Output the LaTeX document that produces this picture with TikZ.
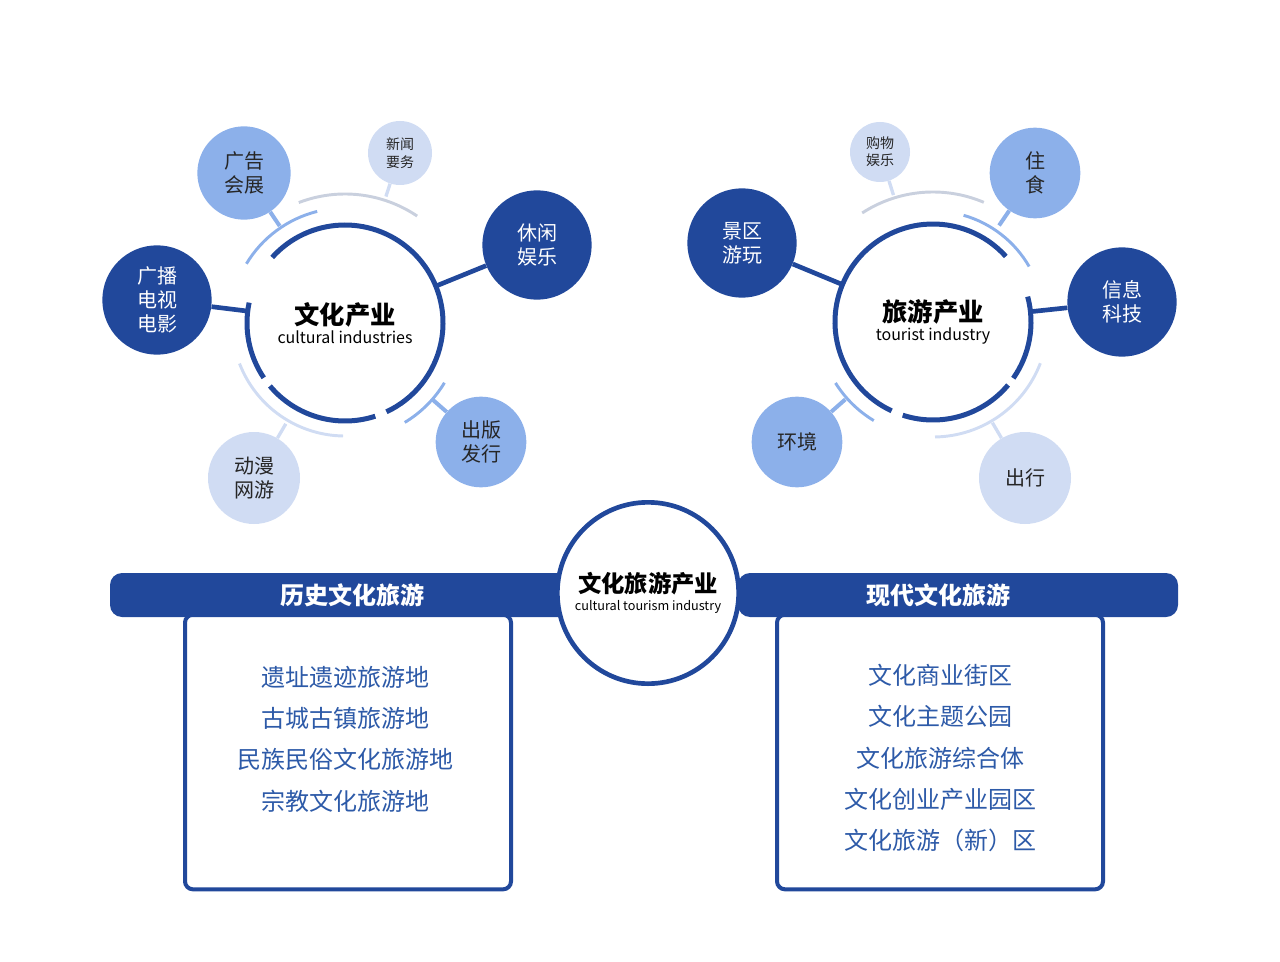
\documentclass[tikz,border=0pt]{standalone}
\usepackage{fontspec}
\setmainfont{Noto Sans CJK SC}
\begin{document}
\begin{tikzpicture}[x=0.75pt,y=-0.75pt]
\definecolor{dk}{HTML}{21489B}
\definecolor{md}{HTML}{8CB0EA}
\definecolor{lt}{HTML}{D0DCF3}
\definecolor{gy}{HTML}{C9D0DE}
\definecolor{tb}{HTML}{2D5AA8}
\tikzset{
 sat/.style={circle,inner sep=0pt,align=center,font=\fontsize{15}{18}\selectfont},
 satd/.style={sat,fill=dk,text=white},
 satm/.style={sat,fill=md,text=black!85},
 satl/.style={sat,fill=lt,text=black!85},
 hub/.style={circle,minimum size=147pt,inner sep=0pt,align=center},
 ring/.style={dk,line width=3.75pt},
 oarc/.style={line width=2.2pt},
 conn/.style={line width=3.5pt},
 bar/.style={fill=dk,rounded corners=9pt},
 box/.style={draw=dk,line width=3pt,rounded corners=6pt,fill=white},
 btext/.style={text=tb,font=\fontsize{18}{22}\selectfont},
}
\useasboundingbox (0,0) rectangle (1280,962);
% ---------- left hub ----------
\node[hub] (L) at (345,323) {};
\node[satd,minimum size=82pt] (l1) at (157,300) {广播\\电视\\电影};
\node[satm,minimum size=70pt] (l2) at (244,173) {广告\\会展};
\node[satl,minimum size=48pt,font=\fontsize{10.5}{13}\selectfont] (l3) at (400,153) {新闻\\要务};
\node[satd,minimum size=82pt] (l4) at (537,245) {休闲\\娱乐};
\node[satm,minimum size=68pt] (l5) at (481,442) {出版\\发行};
\node[satl,minimum size=69pt] (l6) at (254,478) {动漫\\网游};
\draw[conn,dk] (l1) -- (L);
\draw[conn,dk] (l4) -- (L);
\draw[conn,md,line width=3pt,shorten >=14pt] (l2) -- (L);
\draw[conn,md,line width=3pt,shorten >=14pt] (l5) -- (L);
\draw[conn,lt,line width=2.5pt,shorten >=14pt] (l6) -- (L);
\draw[conn,lt,line width=2.5pt,shorten >=26pt] (l3) -- (L);
\draw[ring] (345,323) ++(-138:98) arc[start angle=-138,end angle=65,radius=98];
\draw[ring] (345,323) ++(72:98) arc[start angle=72,end angle=140,radius=98];
\draw[ring] (345,323) ++(146:98) arc[start angle=146,end angle=192,radius=98];
\draw[oarc,md] (345,323) ++(211:115) arc[start angle=211,end angle=256,radius=115];
\draw[oarc,gy] (345,323) ++(249:129) arc[start angle=249,end angle=304,radius=129];
\draw[oarc,lt] (345,323) ++(91:113) arc[start angle=91,end angle=159,radius=113];
\draw[oarc,md] (345,323) ++(31:116) arc[start angle=31,end angle=59,radius=116];
\node[align=center] at (345,323) {{\fontsize{19}{22}\selectfont\bfseries 文化产业}\\[2pt]{\fontsize{12}{14}\selectfont cultural industries}};
% ---------- right hub ----------
\node[hub] (R) at (933,322) {};
\node[satl,minimum size=45pt,font=\fontsize{10.5}{13}\selectfont] (r1) at (880,152) {购物\\娱乐};
\node[satm,minimum size=68pt] (r2) at (1035,173) {住\\食};
\node[satd,minimum size=82pt] (r3) at (742,243) {景区\\游玩};
\node[satd,minimum size=82pt] (r4) at (1122,302) {信息\\科技};
\node[satm,minimum size=68pt] (r5) at (797,442) {环境};
\node[satl,minimum size=69pt] (r6) at (1025,478) {出行};
\draw[conn,dk] (r3) -- (R);
\draw[conn,dk] (r4) -- (R);
\draw[conn,md,line width=3pt,shorten >=14pt] (r2) -- (R);
\draw[conn,md,line width=3pt,shorten >=14pt] (r5) -- (R);
\draw[conn,lt,line width=2.5pt,shorten >=14pt] (r6) -- (R);
\draw[conn,lt,line width=2.5pt,shorten >=26pt] (r1) -- (R);
\draw[ring] (933,322) ++(-15:98) arc[start angle=-15,end angle=35,radius=98];
\draw[ring] (933,322) ++(40:98) arc[start angle=40,end angle=108,radius=98];
\draw[ring] (933,322) ++(115:98) arc[start angle=115,end angle=318,radius=98];
\draw[oarc,gy] (933,322) ++(237:130) arc[start angle=237,end angle=293,radius=130];
\draw[oarc,md] (933,322) ++(286:111) arc[start angle=286,end angle=330,radius=111];
\draw[oarc,lt] (933,322) ++(21:115) arc[start angle=21,end angle=89,radius=115];
\draw[oarc,md] (933,322) ++(121:115) arc[start angle=121,end angle=148,radius=115];
\node[align=center] at (933,322) {{\fontsize{19}{22}\selectfont\bfseries 旅游产业}\\[2pt]{\fontsize{12}{14}\selectfont tourist industry}};
% ---------- bottom ----------
\node[box,minimum width=244.5pt,minimum height=206pt,inner sep=0pt] (bl) at (348,752) {};
\node[box,minimum width=244.5pt,minimum height=206pt,inner sep=0pt] (br) at (940,752) {};
\node[bar,minimum width=345pt,minimum height=33pt,inner sep=0pt,text=white,font=\fontsize{18}{22}\selectfont\bfseries] (hl) at (340,595) {\hspace*{9pt}历史文化旅游\hspace*{-9pt}};
\node[bar,minimum width=330pt,minimum height=33pt,inner sep=0pt,text=white,font=\fontsize{18}{22}\selectfont\bfseries] (hr) at (958,595) {\hspace*{-30pt}现代文化旅游};
\node[circle,draw=dk,line width=3.5pt,fill=white,minimum size=136pt,inner sep=0pt,align=center] (C) at (648,593)
 {{\fontsize{17.5}{20}\selectfont\bfseries 文化旅游产业}\\[1pt]{\fontsize{9.5}{11}\selectfont cultural tourism industry}};
\node[btext,align=center] (tl) at (345,739) {遗址遗迹旅游地\\[9pt]古城古镇旅游地\\[9pt]民族民俗文化旅游地\\[9pt]宗教文化旅游地};
\node[btext,align=center] (tr) at (940,758) {文化商业街区\\[9pt]文化主题公园\\[9pt]文化旅游综合体\\[9pt]文化创业产业园区\\[9pt]文化旅游（新）区};
\end{tikzpicture}
\end{document}
